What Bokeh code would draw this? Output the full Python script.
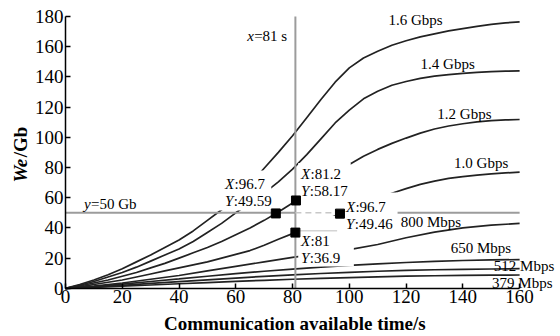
from math import pi
from bokeh.plotting import figure
from bokeh.models import Label, FixedTicker
from bokeh.embed import file_html
from bokeh.resources import INLINE

FONT = "Liberation Serif"

# ---------------- data ----------------
time_fine = list(range(0, 161, 5))      # s
time_coarse = list(range(0, 161, 10))   # s

we_1600 = [0, 2.5, 5.5, 9, 13, 17.5, 22, 27, 32, 38, 45, 52, 60, 69, 79.5, 90, 101,
           113, 125, 136.5, 146, 152.5, 157, 161, 164, 166.5, 168.5, 170.5, 172,
           173.5, 174.8, 175.8, 176.5]
we_1400 = [0, 2, 4.5, 7.5, 10.5, 14, 18, 22, 26, 31, 37, 43, 50, 56.5, 63, 70.5, 79,
           88.5, 99, 109.5, 118, 125.5, 130.5, 134.5, 137, 139, 140.5, 141.5, 142.3,
           143, 143.5, 143.8, 144]
we_1200 = [0, 1.5, 3.5, 5.5, 8, 10.5, 13.5, 16.5, 20, 23.5, 27, 31, 35.5, 40, 45, 50.5,
           56.5, 63, 70, 76.5, 82, 87.5, 92, 96, 99.5, 102.8, 105.5, 107.5, 109, 110.2,
           111, 111.5, 111.8]
we_1000 = [0, 1, 2.5, 4, 5.5, 7.5, 9.5, 11.5, 13.5, 15.5, 17.5, 20, 22.5, 25, 28.5, 32.5,
           36.2, 40, 44, 48, 52, 55.5, 59.5, 63, 66, 68.8, 71, 72.8, 74, 75, 75.8, 76.4, 77]
we_800 = [0, 1.5, 3.5, 6, 8.5, 11.5, 14.5, 17.5, 20.5, 23, 25.6, 29, 33.5, 37.2, 40, 41.8, 43]
we_650 = [0, 1.2, 2.8, 4.5, 6.2, 8, 9.7, 11.3, 12.7, 14, 15.2, 16.2, 17.1, 17.8, 18.4, 18.8, 19]
we_512 = [0, 0.9, 2, 3.2, 4.4, 5.6, 6.8, 7.9, 8.9, 9.8, 10.6, 11.3, 11.9, 12.3, 12.6, 12.8, 13]
we_379 = [0, 0.6, 1.4, 2.2, 3, 3.8, 4.6, 5.3, 6, 6.6, 7.1, 7.6, 8, 8.3, 8.5, 8.7, 8.8]

series_names = ["1.6 Gbps", "1.4 Gbps", "1.2 Gbps", "1.0 Gbps",
                "800 Mbps", "650 Mbps", "512 Mbps", "379 Mbps"]
series_x = [time_fine] * 4 + [time_coarse] * 4
series_y = [we_1600, we_1400, we_1200, we_1000, we_800, we_650, we_512, we_379]

# where each curve's name is written
name_x = [113.8, 125.1, 131.0, 136.9, 118.1, 135.7, 150.9, 150.3]
name_y = [177.4, 148.7, 115.6, 82.8, 43.7, 26.8, 14.5, 3.6]

# reference lines
ref_time = 81
ref_we = 50

# data tips: marker positions and their texts
tip_x = [74.1, 81.2, 96.7, 81.0]
tip_y = [49.59, 58.17, 49.46, 36.9]
tip_text_x = ["96.7", "81.2", "96.7", "81"]
tip_text_y = ["49.59", "58.17", "49.46", "36.9"]
tip_label_x = [56.2, 83.0, 98.8, 83.0]
tip_label_y = [69.2, 75.5, 53.6, 31.1]

# white backgrounds of the data-tip boxes
box_left = [53.5, 82.0, 97.8, 82.0]
box_right = [72.5, 100.5, 117.0, 101.6]
box_bottom = [51.5, 57.0, 36.5, 14.5]
box_top = [78.0, 83.0, 63.5, 48.0]

x_ticks = list(range(0, 161, 20))
y_ticks = list(range(0, 181, 20))
x_axis_end = 160
y_axis_end = 180
x_title = "Communication available time/s"

# ---------------- figure ----------------
# The frame covers nearly the whole canvas; the axes are pinned at 0 so that
# every text (axis titles, curve names) lies inside the frame.
p = figure(width=560, height=336, x_range=(-22.9, 173.7), y_range=(-30.6, 189.3),
           output_backend="svg", toolbar_location=None,
           min_border_left=0, min_border_right=2,
           min_border_top=2, min_border_bottom=2)
p.xgrid.visible = False
p.ygrid.visible = False
p.outline_line_color = None
p.background_fill_color = "white"
p.border_fill_color = "white"

for ax, ticks, end in ((p.xaxis, x_ticks, x_axis_end), (p.yaxis, y_ticks, y_axis_end)):
    ax.fixed_location = 0
    ax.ticker = FixedTicker(ticks=ticks)
    ax.bounds = (0, end)
    ax.minor_tick_line_color = None
    ax.major_tick_in = 5
    ax.major_tick_out = 0
    ax.axis_line_width = 1.5
    ax.axis_line_color = "black"
    ax.major_tick_line_width = 1.5
    ax.major_tick_line_color = "black"
    ax.major_label_text_font = FONT
    ax.major_label_text_font_size = "19px"
    ax.major_label_text_color = "black"
    ax.major_label_standoff = 2

# curves
for xs, ys in zip(series_x, series_y):
    p.line(xs, ys, line_color="#222222", line_width=1.7)

# reference lines
GREY = "#9c9c9c"
p.line([ref_time, ref_time], [0, y_axis_end], line_color=GREY, line_width=2)
p.line([0, ref_time], [ref_we, ref_we], line_color=GREY, line_width=2)
p.line([tip_x[2], x_axis_end], [ref_we, ref_we], line_color=GREY, line_width=2)

# data-tip boxes
p.quad(left=box_left, right=box_right, bottom=box_bottom, top=box_top,
       fill_color="white", line_color=None)

p.line([ref_time, tip_x[2]], [ref_we, ref_we], line_color="#c8c8c8",
       line_width=1.5, line_dash="6 4")
p.line([81.6, 95.7], [38.2, 38.2], line_color="#d4d4d4", line_width=1.5)

p.scatter(tip_x, tip_y, marker="square", size=9, fill_color="black", line_color="black")


def add_label(x, y, text, style="normal", size="15px", x_offset=0, angle=0,
              align="left"):
    p.add_layout(Label(x=x, y=y, text=text, text_font=FONT, text_font_size=size,
                       text_font_style=style, text_color="black",
                       text_baseline="middle", text_align=align,
                       x_offset=x_offset, angle=angle))


for nx, ny, name in zip(name_x, name_y, series_names):
    add_label(nx, ny, name)

for lx, ly, tx, ty in zip(tip_label_x, tip_label_y, tip_text_x, tip_text_y):
    add_label(lx, ly, "X", "italic")
    add_label(lx, ly, ":" + tx, x_offset=9.5)
    add_label(lx, ly - 11.2, "Y", "italic")
    add_label(lx, ly - 11.2, ":" + ty, x_offset=8.8)

add_label(64.0, 167.3, "x", "italic")
add_label(64.0, 167.3, "=%d s" % ref_time, x_offset=7)
add_label(6.5, 55.8, "y", "italic")
add_label(6.5, 55.8, "=%d Gb" % ref_we, x_offset=7)

# axis titles
add_label(x_axis_end / 2 + 0.8, -23.5, x_title, "bold", "19px", align="center")
add_label(-15.9, 70.0, "We", "bold italic", "19px", angle=pi / 2)
add_label(-15.9, 86.8, "/Gb", "bold", "19px", angle=pi / 2)

open("out.html", "w").write(file_html(p, INLINE))
